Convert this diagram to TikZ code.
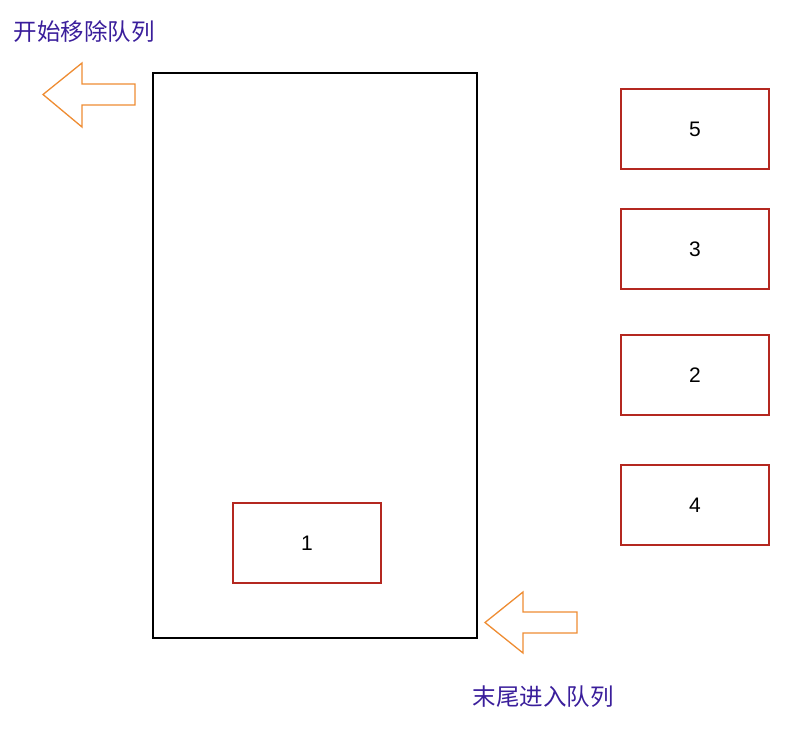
\documentclass[tikz,border=0pt]{standalone}
\usepackage{fontspec}
\setmainfont{Liberation Sans}
\newfontfamily\cjk{Noto Sans CJK SC}
\usepackage{tikz}
\usetikzlibrary{positioning}
\definecolor{itemred}{RGB}{180,40,32}
\definecolor{arroworange}{RGB}{238,140,50}
\definecolor{labelpurple}{RGB}{58,30,155}
\tikzset{%
  q/.style = {rectangle,draw,line width=1.5pt,minimum width=324pt,
        minimum height=565pt,inner sep=0pt},
  e/.style = {rectangle,draw=itemred,line width=1.5pt,minimum width=148pt,
        minimum height=80pt,text depth=0pt,font=\fontsize{21}{25}\selectfont},
  l/.style = {text=labelpurple,inner sep=0pt,font=\cjk\fontsize{23.5}{27}\selectfont},
  a/.style = {draw=arroworange,line width=1.3pt,line join=miter}
}
\begin{document}
\begin{tikzpicture}[x=1pt,y=-1pt]
    \useasboundingbox (0,0) rectangle (794,728);
    \node[q] (queue) at (315,355.5) {};
    \node[e] (e1) at (307,543) {1};
    \node[e] (e5) at (695,129) {5};
    \node[e] (e3) at (695,249) {3};
    \node[e] (e2) at (695,375) {2};
    \node[e] (e4) at (695,505) {4};
    \node[l] (out) at (84,32) {开始移除队列};
    \node[l] (in) at (543,697) {末尾进入队列};
    \draw[a] (135,84) -- (82,84) -- (82,63) -- (43,94.5) -- (82,127)
        -- (82,105) -- (135,105) -- cycle;
    \draw[a] (577,612) -- (523,612) -- (523,592) -- (485,622.5) -- (523,653)
        -- (523,633) -- (577,633) -- cycle;
\end{tikzpicture}
\end{document}
